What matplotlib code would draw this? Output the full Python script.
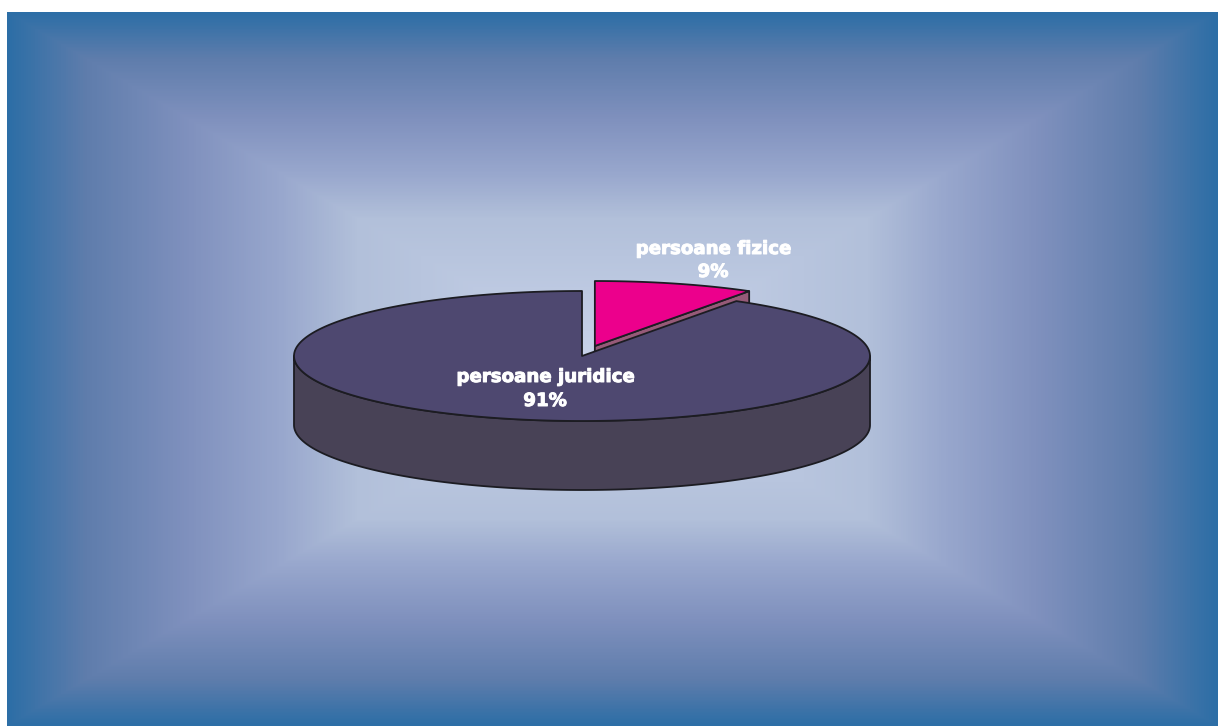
import numpy as np
import matplotlib
matplotlib.use("Agg")
import matplotlib.pyplot as plt
import matplotlib.patheffects as pe
from matplotlib.patches import Polygon
from matplotlib.colors import LinearSegmentedColormap

# DATA (clockwise from 12 o'clock)
LABELS = ["persoane fizice", "persoane juridice"]
SHARES = [9, 91]

# STYLE
TOP_COLORS = ["#ec008c", "#4e4870"]
SIDE_COLORS = ["#965a78", "#484256"]
EXPLODE = [0.16, 0.0]
EDGE = "#1c1c22"
# label centre x, baseline of name, baseline of percentage
LABEL_POS = [(713, 254, 277), (545, 382, 406)]

# GEOMETRY (pixels)
W, H = 1218, 726
CX, CY = 582, 356
RX, RY = 288, 65
DEPTH = 69


def ell(theta, cx, cy):
    t = np.radians(theta)
    return np.column_stack([cx + RX * np.cos(t), cy - RY * np.sin(t)])


def draw_background(ax):
    x0, y0 = 7, 12
    xs = np.arange(x0, W) + 0.5
    ys = np.arange(y0, H) + 0.5
    xc, yc = (x0 + W) / 2, (y0 + H) / 2
    gx, gy = np.meshgrid(np.abs(xs - xc) / (W - xc), np.abs(ys - yc) / (H - yc))
    t = np.maximum(gx, gy)
    stops = [(0.0, (202, 212, 234)), (0.42, (178, 192, 218)), (0.55, (152, 167, 205)),
             (0.7, (128, 145, 190)), (0.87, (95, 125, 172)), (1.0, (44, 110, 166))]
    cmap = LinearSegmentedColormap.from_list("bg", [(p, np.array(c) / 255) for p, c in stops])
    ax.imshow(t, cmap=cmap, vmin=0, vmax=1, extent=[x0, W, H, y0], interpolation="bilinear", zorder=0)


def draw_pie(ax):
    total = sum(SHARES)
    start = 90.0
    slices = []
    for share, ex, top, side in zip(SHARES, EXPLODE, TOP_COLORS, SIDE_COLORS):
        t1 = start
        t2 = start - 360.0 * share / total
        start = t2
        mid = np.radians((t1 + t2) / 2)
        cx = CX + ex * RX * np.cos(mid)
        cy = CY - ex * RY * np.sin(mid)
        slices.append((t1, t2, cx, cy, top, side))

    kw = dict(edgecolor=EDGE, linewidth=1.3, joinstyle="round")
    for z, (t1, t2, cx, cy, top, side) in enumerate(slices):
        apex = np.array([[cx, cy]])
        down = np.array([0, DEPTH])

        # radial faces turned toward the viewer
        for ang, normal in ((t2, t2 - 90), (t1, t1 + 90)):
            if np.sin(np.radians(normal)) < -1e-6:
                rim = ell(np.array([ang]), cx, cy)
                face = np.vstack([apex, rim, rim + down, apex + down])
                ax.add_patch(Polygon(face, closed=True, facecolor=side, zorder=2 + 3 * z, **kw))

        # front part of the outer wall
        for k in (-360, 0, 360):
            lo, hi = max(t2, 180 + k), min(t1, 360 + k)
            if hi > lo:
                arc = ell(np.linspace(lo, hi, 200), cx, cy)
                wall = np.vstack([arc, (arc + down)[::-1]])
                ax.add_patch(Polygon(wall, closed=True, facecolor=side, zorder=3 + 3 * z, **kw))

        arc = ell(np.linspace(t1, t2, 400), cx, cy)
        ax.add_patch(Polygon(np.vstack([apex, arc]), closed=True, facecolor=top, zorder=4 + 3 * z, **kw))

    heavy = [pe.withStroke(linewidth=0.7, foreground="white")]
    for (x, y1, y2), label, share in zip(LABEL_POS, LABELS, SHARES):
        for y, s in ((y1, label), (y2, "{}%".format(share))):
            ax.text(x, y, s, ha="center", va="baseline", color="white", fontsize=13.1,
                    fontweight="bold", family="DejaVu Sans", path_effects=heavy, zorder=20)


if __name__ == "__main__":
    fig = plt.figure(figsize=(W / 100, H / 100), dpi=100)
    ax = fig.add_axes([0, 0, 1, 1])
    ax.set_xlim(0, W)
    ax.set_ylim(H, 0)
    ax.axis("off")
    draw_background(ax)
    draw_pie(ax)
    fig.savefig("out.png", dpi=100, facecolor="white")
